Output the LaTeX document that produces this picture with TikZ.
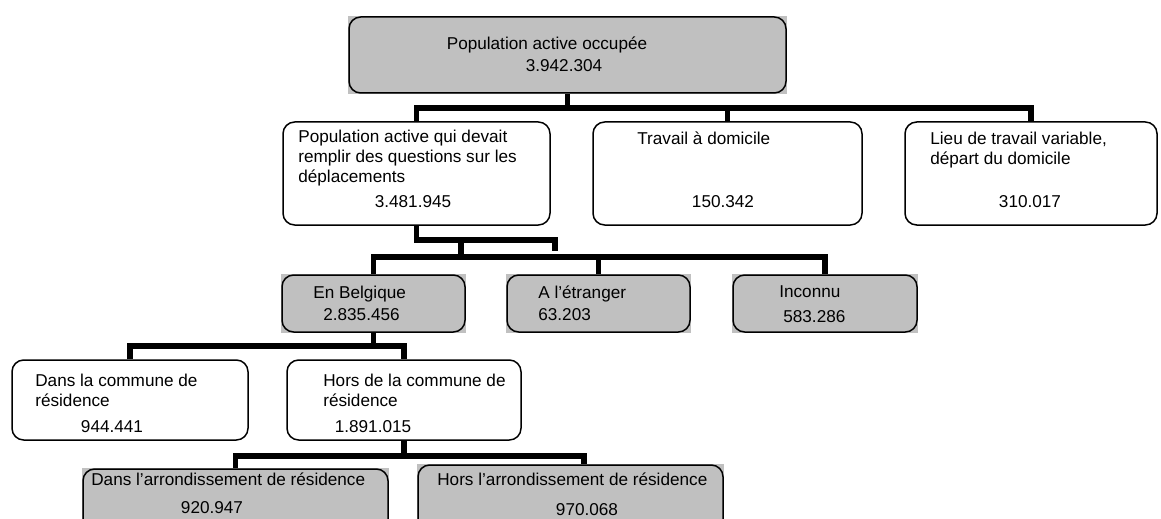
\documentclass[tikz,border=0pt]{standalone}
\usepackage{fontspec}
\setmainfont{Liberation Sans}
\usetikzlibrary{backgrounds}
\definecolor{boxgray}{RGB}{192,192,192}

\tikzset{
  whitebox/.style={draw, line width=0.9pt, rounded corners=7pt, inner sep=0pt},
  boxsize/.style 2 args={minimum width=#1*0.6pt, minimum height=#2*0.6pt},
  conn/.style={line width=3.4pt, line join=miter},
  lbl/.style={inner sep=0pt, anchor=base west, align=left},
  num/.style={inner sep=0pt, anchor=base},
}

\begin{document}
\begin{tikzpicture}[
  x=0.6pt, y=-0.6pt,
  font=\fontsize{10.3}{12}\selectfont,
]

%% ─── canvas: 1 unit = 1 px of the 1161 x 518 sheet ───────────
\useasboundingbox (0,0) rectangle (1161,518);
\clip (0,0) rectangle (1161,518);

% ── niveau 1 ────────────────────────────────────────────────
\node[whitebox, boxsize={437}{76}] (top) at (567.5,55) {};
\node[num] (topT) at (547,50) {Population active occupée};
\node[num] (topN) at (564,72) {3.942.304};

% ── niveau 2 ────────────────────────────────────────────────
\node[whitebox, boxsize={267}{103}] (depl) at (416.5,173.5) {};
\node[lbl] (deplT) at (298,182)
  {Population active qui devait\\remplir des questions sur les\\déplacements};
\node[num] (deplN) at (413,207) {3.481.945};

\node[whitebox, boxsize={269}{103}] (trav) at (727.5,173.5) {};
\node[lbl] (travT) at (637,145) {Travail à domicile};
\node[num] (travN) at (723,207) {150.342};

\node[whitebox, boxsize={252}{103}] (lieu) at (1031,173.5) {};
\node[lbl] (lieuT) at (930,165) {Lieu de travail variable,\\départ du domicile};
\node[num] (lieuN) at (1030,207) {310.017};

% ── niveau 3 ────────────────────────────────────────────────
\node[whitebox, boxsize={183}{57}] (bel) at (373.5,303.5) {};
\node[lbl] (belT) at (313,298) {En Belgique};
\node[lbl] (belN) at (323,320) {2.835.456};

\node[whitebox, boxsize={183}{57}] (etr) at (598.5,303.5) {};
\node[lbl] (etrT) at (538,298) {A l’étranger};
\node[lbl] (etrN) at (538,320) {63.203};

\node[whitebox, boxsize={184}{57}] (inc) at (825,303.5) {};
\node[lbl] (incT) at (779,297) {Inconnu};
\node[lbl] (incN) at (783,322) {583.286};

% ── niveau 4 ────────────────────────────────────────────────
\node[whitebox, boxsize={236}{80}] (dcom) at (130,400) {};
\node[lbl] (dcomT) at (35,406) {Dans la commune de\\résidence};
\node[num] (dcomN) at (112,432) {944.441};

\node[whitebox, boxsize={234}{80}] (hcom) at (404,400) {};
\node[lbl] (hcomT) at (323,406) {Hors de la commune de\\résidence};
\node[num] (hcomN) at (373,432) {1.891.015};

% ── niveau 5 (coupé en bas) ─────────────────────────────────
\node[whitebox, boxsize={305}{66}] (darr) at (235.5,502) {};
\node[lbl] (darrT) at (91,485) {Dans l’arrondissement de résidence};
\node[num] (darrN) at (212,513) {920.947};

\node[whitebox, boxsize={305}{70}] (harr) at (570.5,500) {};
\node[lbl] (harrT) at (437,485) {Hors l’arrondissement de résidence};
\node[num] (harrN) at (587,515) {970.068};

% ── fonds gris (rectangles droits) ──────────────────────────
\begin{scope}[on background layer]
  \foreach \b in {top, bel, etr, inc, darr, harr}
    \fill[boxgray] (\b.south west) rectangle (\b.north east);
\end{scope}

% ════════════════════════════════════════════════════════════
%  liaisons
% ════════════════════════════════════════════════════════════
\draw[conn] (top.south) -- ++(0,14) coordinate (b1);
\draw[conn] (depl.north) |- (b1) -| (lieu.north);
\draw[conn] (trav.north) -- (trav.north |- b1);

\draw[conn] (depl.south) -- ++(0,14) -| (555,251);
\coordinate (b3) at (461,257);
\draw[conn] (b3) -- ++(0,-14);
\draw[conn] (bel.north) |- (b3) -| (inc.north);
\draw[conn] (etr.north) -- (etr.north |- b3);

\draw[conn] (bel.south) -- ++(0,13) coordinate (b4);
\draw[conn] (dcom.north) |- (b4) -| (hcom.north);

\draw[conn] (hcom.south) -- ++(0,15) coordinate (b5);
\draw[conn] (darr.north) |- (b5) -| ([xshift=8pt]harr.north);

\end{tikzpicture}
\end{document}
